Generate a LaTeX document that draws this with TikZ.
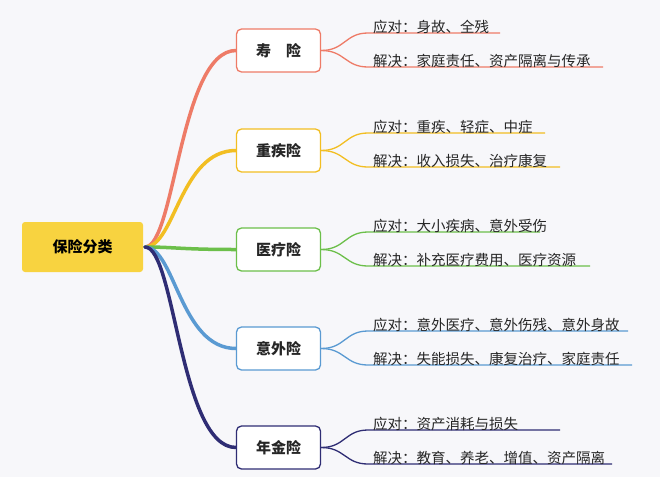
\documentclass[tikz,border=0pt]{standalone}
\usepackage{fontspec}
\setmainfont{Noto Sans CJK SC}
\definecolor{bg}{HTML}{F7F7FA}
\definecolor{cA}{HTML}{EE7B67}
\definecolor{cB}{HTML}{F2BE22}
\definecolor{cC}{HTML}{6CBF4A}
\definecolor{cD}{HTML}{5A9AD2}
\definecolor{cE}{HTML}{2F2D74}
\definecolor{rootc}{HTML}{F8D340}
\tikzset{
  kid/.style={draw=#1,line width=1.3pt,rounded corners=5pt,fill=white,minimum width=84pt,minimum height=43pt,font=\fontsize{15}{18}\selectfont\bfseries,text=black!85},
  br/.style={draw=#1,line width=3.5pt,line cap=round},
  sub/.style={draw=#1,line width=1.3pt},
  lab/.style={anchor=south west,font=\fontsize{14.5}{16}\selectfont,text=black!85,inner sep=1pt}
}
\begin{document}
\begin{tikzpicture}[x=1pt,y=-1pt]
\fill[bg] (0,0) rectangle (660,477);
\useasboundingbox (0,0) rectangle (660,477);
\node[fill=rootc,rounded corners=3pt,minimum width=121pt,minimum height=50pt,font=\fontsize{15}{18}\selectfont\bfseries] (root) at (82.5,247) {保险分类};
\coordinate (r) at (145,247);
\foreach \n/\c/\y/\t/\la/\lb/\ea/\eb in {
  a/cA/50.5/{寿\quad 险}/{应对：身故、全残}/{解决：家庭责任、资产隔离与传承}/500/603,
  b/cB/150.5/重疾险/{应对：重疾、轻症、中症}/{解决：收入损失、治疗康复}/545/560,
  c/cC/249.5/医疗险/{应对：大小疾病、意外受伤}/{解决：补充医疗费用、医疗资源}/540/590,
  d/cD/348.5/意外险/{应对：意外医疗、意外伤残、意外身故}/{解决：失能损失、康复治疗、家庭责任}/628/632,
  e/cE/447.5/年金险/{应对：资产消耗与损失}/{解决：教育、养老、增值、资产隔离}/560/612}{
  \draw[br=\c] (r) .. controls (175,247) and (180,\y) .. (236,\y);
  \node[kid=\c] (\n) at (278.5,\y) {\t};
  \coordinate (\n1) at (368,\y-17.5);
  \coordinate (\n2) at (368,\y+16.5);
  \coordinate (\n1e) at (\ea,\y-17.5);
  \coordinate (\n2e) at (\eb,\y+16.5);
  \draw[sub=\c] (\n.east) .. controls (345,\y) and (345,\y-17.5) .. (\n1) -- (\n1e);
  \draw[sub=\c] (\n.east) .. controls (345,\y) and (345,\y+16.5) .. (\n2) -- (\n2e);
  \node[lab] at ([yshift=-2pt,xshift=4pt]\n1) {\la};
  \node[lab] at ([yshift=-2pt,xshift=4pt]\n2) {\lb};
}
\end{tikzpicture}
\end{document}
